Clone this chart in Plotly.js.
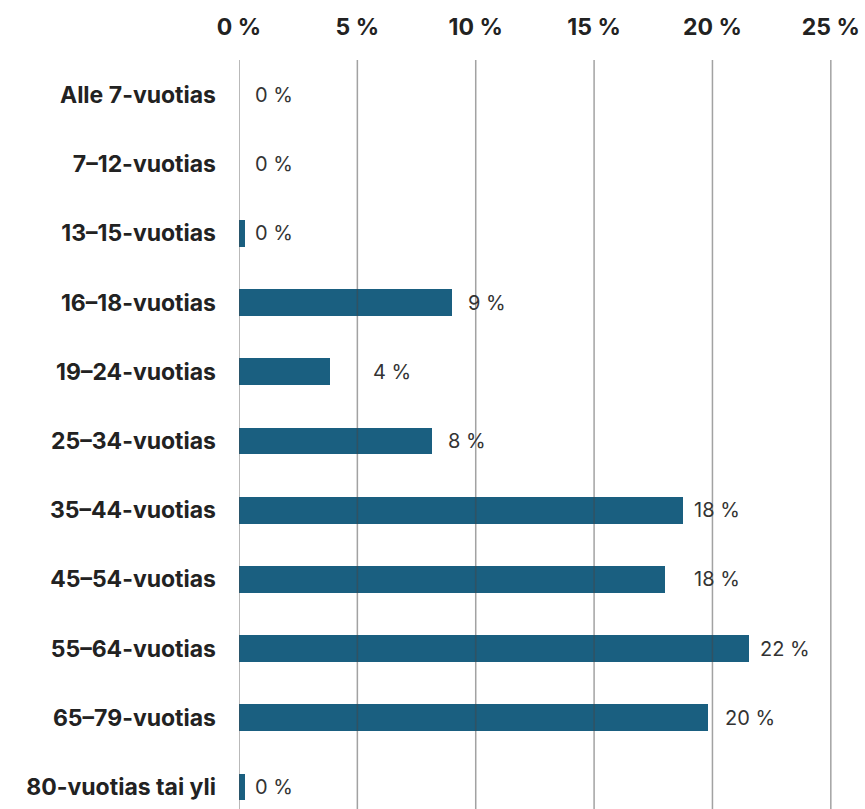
<!DOCTYPE html>
<html>
<head>
<meta charset="utf-8">
<script src="https://cdn.plot.ly/plotly-3.0.1.min.js"></script>
<style>html,body{margin:0;padding:0;background:#fff;}#chart{width:865px;height:809px;}</style>
</head>
<body>
<div id="chart"></div>
<script>
// Data
var categories = ["Alle 7-vuotias", "7–12-vuotias", "13–15-vuotias", "16–18-vuotias", "19–24-vuotias",
  "25–34-vuotias", "35–44-vuotias", "45–54-vuotias", "55–64-vuotias", "65–79-vuotias", "80-vuotias tai yli"];
var values = [0, 0, 0.25, 9.0, 3.85, 8.15, 18.75, 18.0, 21.55, 19.8, 0.25];
var valueLabels = ["0 %", "0 %", "0 %", "9 %", "4 %", "8 %", "18 %", "18 %", "22 %", "20 %", "0 %"];
var tickValues = [0, 5, 10, 15, 20, 25];
var tickLabels = ["0 %", "5 %", "10 %", "15 %", "20 %", "25 %"];

// label offsets in px (style)
var labelShift = [14, 14, 8, 14, 41, 14, 9, 27, 9, 15, 8];

var barColor = "#1a5f80";

var trace = {
  type: "bar",
  orientation: "h",
  y: categories,
  x: values,
  marker: {color: barColor},
  width: 0.386,
  hoverinfo: "none"
};

var annotations = categories.map(function (c, i) {
  return {
    x: values[i], y: c, xref: "x", yref: "y",
    text: valueLabels[i], showarrow: false,
    xanchor: "left", yanchor: "middle", xshift: labelShift[i], yshift: 0,
    font: {family: "Inter, 'Noto Sans', sans-serif", size: 20, color: "#333"}
  };
});

var shapes = tickValues.map(function (t) {
  return {
    type: "line", xref: "x", yref: "paper", x0: t, x1: t, y0: 0, y1: 1,
    layer: "above", line: {color: "rgba(70,70,70,0.5)", width: 1.5}
  };
});

var layout = {
  width: 865, height: 809,
  margin: {l: 239, r: 33, t: 60, b: 0, pad: 0},
  paper_bgcolor: "#fff", plot_bgcolor: "#fff",
  showlegend: false,
  bargap: 0,
  xaxis: {
    side: "top",
    range: [0, 25.05],
    tickvals: tickValues,
    ticktext: tickLabels,
    showgrid: false,
    zeroline: false,
    showline: false,
    ticks: "",
    ticklabelstandoff: 19,
    tickfont: {family: "Inter, 'Noto Sans', sans-serif", size: 23, color: "#222", weight: "bold"},
    fixedrange: true
  },
  yaxis: {
    type: "category",
    range: [10.318, -0.506],
    autorange: false,
    showgrid: false,
    zeroline: false,
    showline: false,
    ticks: "",
    ticklabelstandoff: 22,
    tickfont: {family: "Inter, 'Noto Sans', sans-serif", size: 23, color: "#222", weight: "bold"},
    fixedrange: true
  },
  annotations: annotations,
  shapes: shapes
};

Plotly.newPlot("chart", [trace], layout, {displayModeBar: false, staticPlot: true});
</script>
</body>
</html>
